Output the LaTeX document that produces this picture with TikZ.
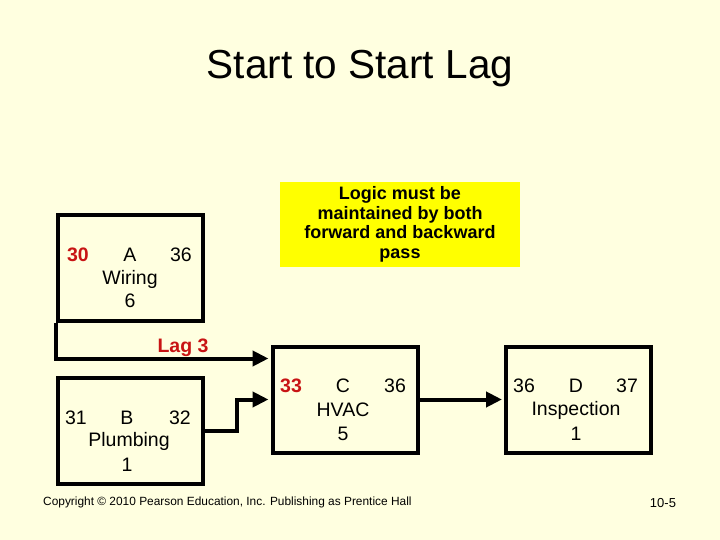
\documentclass[tikz,border=0pt]{standalone}
\usepackage{fontspec}
\setmainfont{Liberation Sans}
\usetikzlibrary{arrows.meta,calc}
\definecolor{bgc}{RGB}{255,255,224}
\definecolor{lagred}{RGB}{200,20,20}
\definecolor{noteyel}{RGB}{255,255,0}
\tikzset{
  act/.style={draw=black,line width=4pt,minimum width=145pt,minimum height=106pt,inner sep=0pt},
  txt/.style={inner sep=0pt,font=\fontsize{19.5}{23}\selectfont},
  red/.style={txt,text=lagred,font=\fontsize{19.5}{23}\selectfont\bfseries},
  conn/.style={line width=4pt,-{Triangle[length=16pt,width=15pt]}},
}
\begin{document}
\begin{tikzpicture}[x=1pt,y=-1pt]
\fill[bgc] (0,0) rectangle (720,540);
\useasboundingbox (0,0) rectangle (720,540);
% title
\node[inner sep=0pt,font=\fontsize{40.5}{46}\selectfont] (title) at (360,69) {Start to Start Lag};
% note
\node[fill=noteyel,minimum width=240pt,minimum height=85pt,inner sep=0pt,align=center,
  font=\fontsize{18}{19.6}\selectfont\bfseries] (note) at (400,224.5)
  {Logic must be\\maintained by both\\forward and backward\\pass};
% boxes
\node[act] (A) at (130.5,268) {};
\node[act] (B) at (130,430.5) {};
\node[act] (C) at (345,399.5) {};
\node[act] (D) at (578.5,399.5) {};
% box A text
\node[red] (a1) at (78,255) {30};
\node[txt] (a2) at (130,255) {A};
\node[txt] (a3) at (181,255) {36};
\node[txt] (a4) at (130,279) {Wiring};
\node[txt] (a5) at (130,301) {6};
% box B text
\node[txt] (b1) at (76,418) {31};
\node[txt] (b2) at (127,418) {B};
\node[txt] (b3) at (180,418) {32};
\node[txt] (b4) at (129,441) {Plumbing};
\node[txt] (b5) at (127,465) {1};
% box C text
\node[red] (c1) at (291,386) {33};
\node[txt] (c2) at (343,386) {C};
\node[txt] (c3) at (395,386) {36};
\node[txt] (c4) at (343,410) {HVAC};
\node[txt] (c5) at (343,434) {5};
% box D text
\node[txt] (d1) at (524,386) {36};
\node[txt] (d2) at (576,386) {D};
\node[txt] (d3) at (627,386) {37};
\node[txt] (d4) at (576,410) {Inspection};
\node[txt] (d5) at (576,434) {1};
% lag
\coordinate (lagin) at ($(C.north west)+(-2,14)$);
\draw[conn] (A.south west) |- (lagin);
\node[red] (lag) at (183,348) {Lag 3};
% B -> C
\draw[conn] (B.east) -- ++(32,0) |- ($(C.west)+(-2,0)$);
% C -> D
\draw[conn] (C.east) -- ($(D.west)+(-2,0)$);
% footer
\node[inner sep=0pt,anchor=west,font=\fontsize{11.9}{13}\selectfont] (copy) at (43,502) {Copyright © 2010 Pearson Education, Inc. Publishing as Prentice Hall};
\node[inner sep=0pt,font=\fontsize{13}{15}\selectfont] (page) at (663,503) {10-5};
\end{tikzpicture}
\end{document}
